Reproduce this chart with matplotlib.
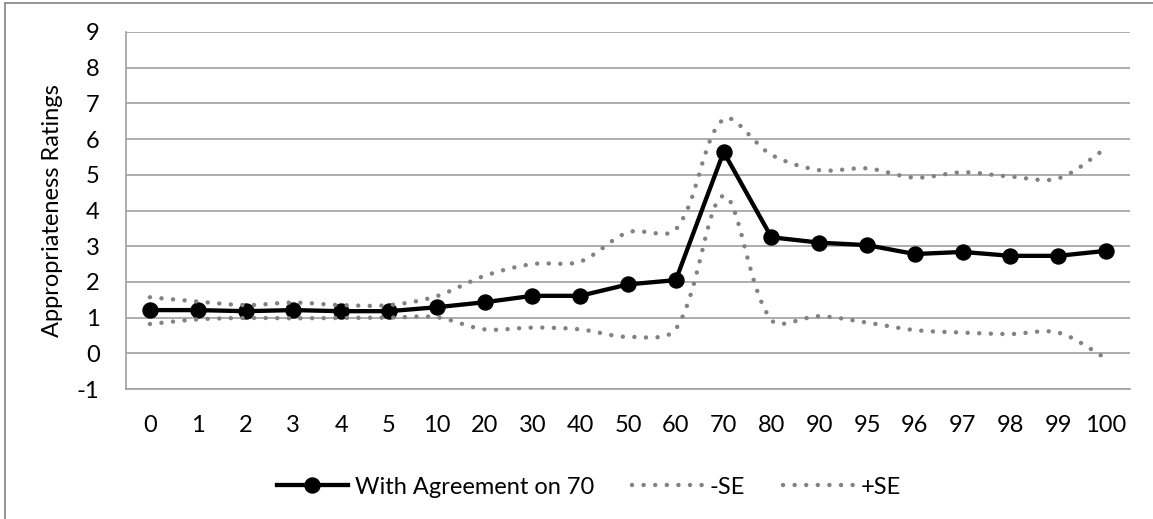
import matplotlib
matplotlib.use("Agg")
import matplotlib.pyplot as plt
from matplotlib.path import Path
from matplotlib.patches import PathPatch
from matplotlib.lines import Line2D
import numpy as np

categories = ["0", "1", "2", "3", "4", "5", "10", "20", "30", "40", "50",
              "60", "70", "80", "90", "95", "96", "97", "98", "99", "100"]
mean_vals = [1.21, 1.21, 1.18, 1.21, 1.18, 1.18, 1.29, 1.43, 1.61, 1.61, 1.93,
             2.05, 5.64, 3.25, 3.10, 3.03, 2.78, 2.84, 2.73, 2.73, 2.87]
minus_se = [0.82, 0.95, 0.99, 0.98, 0.99, 1.00, 1.01, 0.67, 0.72, 0.67, 0.46,
            0.68, 4.41, 0.93, 1.04, 0.86, 0.65, 0.58, 0.54, 0.58, -0.14]
plus_se = [1.57, 1.45, 1.35, 1.42, 1.35, 1.35, 1.60, 2.17, 2.50, 2.57, 3.39,
           3.47, 6.56, 5.56, 5.13, 5.18, 4.92, 5.07, 4.95, 4.90, 5.74]
y_ticks = [-1, 0, 1, 2, 3, 4, 5, 6, 7, 8, 9]
series_labels = ["With Agreement on 70", "-SE", "+SE"]
y_label = "Appropriateness Ratings"

W, H = 1153, 519
plt.rcParams['font.family'] = ['Lato', 'DejaVu Sans']
plt.rcParams['axes.unicode_minus'] = False
FS = 17
fig = plt.figure(figsize=(W / 100, H / 100), dpi=100)
ax = fig.add_axes([126 / W, 1 - 389 / H, (1130 - 126) / W, (389 - 32) / H])

grid_c = '#a0a0a0'
dot_c = '#828282'
x = np.arange(len(categories))

ax.set_xlim(-0.5, len(categories) - 0.5)
ax.set_ylim(-1, 9)


def smooth_path(xs, ys):
    """Excel-style smoothed line: cubic Bezier segments whose control
    handles are weighted by neighbouring segment lengths on screen."""
    pts = np.column_stack([xs, ys]).astype(float)
    disp = ax.transData.transform(pts)
    n = len(pts)
    seg = np.hypot(*np.diff(disp, axis=0).T)
    verts = [pts[0]]
    codes = [Path.MOVETO]
    for i in range(n - 1):
        p0, p1 = pts[i], pts[i + 1]
        # outgoing handle at p0
        if i == 0:
            c1 = p0 + (p1 - p0) / 3.0
        else:
            t = pts[i + 1] - pts[i - 1]
            w = seg[i] / (seg[i - 1] + seg[i])
            c1 = p0 + t * w / 3.0
        # incoming handle at p1
        if i + 1 == n - 1:
            c2 = p1 - (p1 - p0) / 3.0
        else:
            t = pts[i + 2] - pts[i]
            w = seg[i] / (seg[i] + seg[i + 1])
            c2 = p1 - t * w / 3.0
        verts += [c1, c2, p1]
        codes += [Path.CURVE4] * 3
    return Path(verts, codes)


ax.plot(x, mean_vals, color='black', lw=3.1, marker='o', markersize=10.8,
        zorder=3, solid_joinstyle='round')

dot_style = (0, (0.01, 2.6))
for vals in (minus_se, plus_se):
    patch = PathPatch(smooth_path(x, vals), facecolor='none', edgecolor=dot_c,
                      lw=3.2, linestyle=dot_style, capstyle='round', zorder=4)
    ax.add_patch(patch)

ax.set_yticks(y_ticks)
ax.set_xticks(x)
ax.set_xticklabels(categories)
ax.yaxis.grid(True, color=grid_c, lw=1.2)
ax.set_axisbelow(True)
for s in ('top', 'right'):
    ax.spines[s].set_visible(False)
for s in ('left', 'bottom'):
    ax.spines[s].set_color(grid_c)
    ax.spines[s].set_linewidth(1.2)
ax.tick_params(axis='both', length=0, labelsize=FS, colors='black')
ax.tick_params(axis='y', pad=19)
ax.tick_params(axis='x', pad=19)
ax.set_ylabel(y_label, fontsize=FS, labelpad=10)

handles = [
    Line2D([], [], color='black', lw=3.1, marker='o', markersize=10.8),
    Line2D([], [], color=dot_c, lw=3.2, linestyle=dot_style, dash_capstyle='round'),
    Line2D([], [], color=dot_c, lw=3.2, linestyle=dot_style, dash_capstyle='round'),
]
fig.legend(handles, series_labels, loc='center left', ncol=3, frameon=False,
           bbox_to_anchor=(277 / W, 1 - 487 / H), fontsize=FS,
           borderpad=0, borderaxespad=0,
           handlelength=3.0, handletextpad=0.3, columnspacing=1.6)

# outer frame (left and top edges visible)
fig.add_artist(Line2D([5 / W, 5 / W], [0, 1 - 3 / H], color='#8c8c8c', lw=1.3,
                      transform=fig.transFigure))
fig.add_artist(Line2D([5 / W, 1], [1 - 3 / H, 1 - 3 / H], color='#8c8c8c', lw=1.3,
                      transform=fig.transFigure))

fig.savefig('out.png', dpi=100)
